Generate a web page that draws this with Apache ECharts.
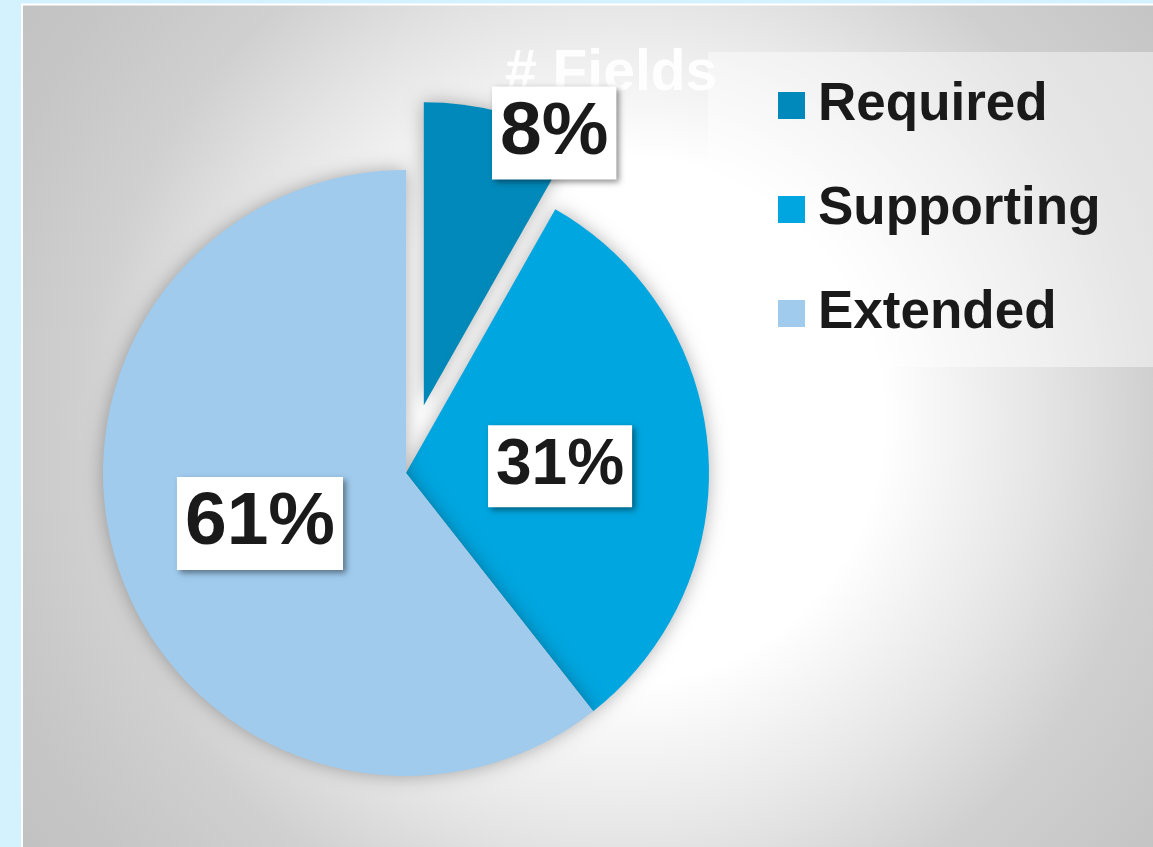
<!DOCTYPE html>
<html>
<head>
<meta charset="utf-8">
<script src="https://cdn.jsdelivr.net/npm/echarts@6/dist/echarts.min.js"></script>
<style>
html,body{margin:0;padding:0;background:#d3f2fd;}
#chart{width:1153px;height:847px;}
</style>
</head>
<body>
<div id="chart"></div>
<script>
const titleText = '# Fields';
const categories = ['Required', 'Supporting', 'Extended'];
const values = [8.2, 31.2, 60.6];
const colors = ['#0089ba', '#00a6e0', '#a0cbed'];
const labelSizes = [75, 64, 75];
const labelShifts = [[91, -123], [0, 5], [0, 0]];

const chart = echarts.init(document.getElementById('chart'), null, {renderer: 'canvas'});
const FONT = '"Liberation Sans", Arial, sans-serif';

const data = categories.map((name, i) => ({
  name: name,
  value: values[i],
  selected: i === 0,
  itemStyle: {color: colors[i]},
  label: {fontSize: labelSizes[i], lineHeight: labelSizes[i]}
}));

const option = {
  backgroundColor: '#d3f2fd',
  animation: false,
  graphic: [{
    type: 'rect',
    z: -10,
    silent: true,
    shape: {x: 22, y: 4.5, width: 1150, height: 860},
    style: {
      fill: {
        type: 'radial', x: 620, y: 420, r: 730, global: true,
        colorStops: [
          {offset: 0, color: '#ffffff'},
          {offset: 0.36, color: '#ffffff'},
          {offset: 0.57, color: '#e6e6e6'},
          {offset: 0.73, color: '#d0d0d0'},
          {offset: 0.9, color: '#c6c6c6'},
          {offset: 1, color: '#c2c2c2'}
        ]
      },
      stroke: '#ffffff',
      lineWidth: 2
    }
  }],
  title: {
    text: titleText,
    left: 505,
    top: 46,
    padding: 0,
    z: 1,
    textStyle: {
      color: 'rgba(255,255,255,0.92)',
      fontSize: 57,
      fontWeight: 'bold',
      fontFamily: FONT,
      lineHeight: 57
    }
  },
  legend: {
    orient: 'vertical',
    left: 708,
    top: 52,
    padding: [27, 140, 27, 70],
    itemWidth: 27,
    itemHeight: 27,
    itemGap: 51,
    icon: 'rect',
    backgroundColor: 'rgba(255,255,255,0.45)',
    selectedMode: false,
    z: 4,
    data: categories,
    textStyle: {
      color: '#1a1a1a',
      fontSize: 53,
      lineHeight: 52,
      fontWeight: 'bold',
      fontFamily: FONT,
      padding: [0, 0, 0, 8]
    }
  },
  series: [{
    type: 'pie',
    z: 2,
    center: [406, 473],
    radius: 303,
    startAngle: 90,
    clockwise: true,
    selectedMode: 'single',
    selectedOffset: 70,
    avoidLabelOverlap: false,
    itemStyle: {
      shadowBlur: 18,
      shadowColor: 'rgba(0,0,0,0.3)'
    },
    select: {
      itemStyle: {borderWidth: 0, shadowBlur: 18, shadowColor: 'rgba(0,0,0,0.3)'}
    },
    emphasis: {disabled: true},
    labelLine: {show: false},
    labelLayout: function (params) {
      const s = labelShifts[params.dataIndex];
      return {dx: s[0], dy: s[1]};
    },
    label: {
      show: true,
      position: 'inside',
      formatter: function (p) { return Math.round(p.percent) + '%'; },
      color: '#1a1a1a',
      fontWeight: 'bold',
      fontFamily: FONT,
      backgroundColor: '#ffffff',
      padding: [9, 8, 9, 8],
      shadowBlur: 6,
      shadowOffsetX: 3,
      shadowOffsetY: 3,
      shadowColor: 'rgba(0,0,0,0.45)'
    },
    data: data
  }]
};
chart.setOption(option);
</script>
</body>
</html>
